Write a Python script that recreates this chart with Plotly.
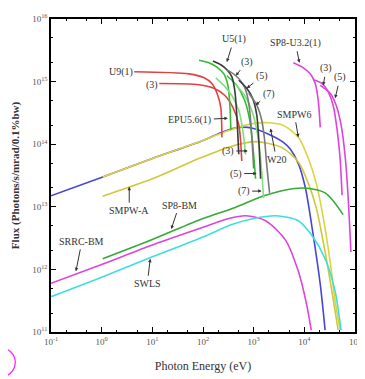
import math
import plotly.graph_objects as go

# ---------------- data (Photon energy in eV, flux in photons/s/mrad/0.1%bw) -------------
w20_e = [0.1, 1.05, 10, 100, 258, 508, 1000, 1970, 3870, 5310, 7620, 10500, 15000, 20600, 25700]
w20_f = [1.5e13, 3.0e13, 5.9e13, 1.15e14, 1.6e14, 1.86e14, 1.78e14, 1.44e14, 1.07e14, 8.3e13,
         4.9e13, 2.0e13, 3.5e12, 5.8e11, 1.07e11]

smpw6_e = [1.05, 10, 100, 324, 1000, 1970, 3870, 7620, 12000, 17200, 23600, 32300, 40500, 50800]
smpw6_f = [3.0e13, 5.9e13, 1.15e14, 1.66e14, 2.15e14, 2.2e14, 2.0e14, 1.29e14, 5.9e13, 2.37e13,
           6.7e12, 1.33e12, 3.16e11, 1.07e11]

smpwa_e = [1.05, 10, 83, 370, 1090, 3540, 7620, 12000, 17200, 24600, 33700, 46500]
smpwa_f = [1.48e13, 2.8e13, 5.9e13, 9.3e13, 1.1e14, 8.9e13, 5.2e13, 2.37e13, 9.6e12, 2.3e12,
           5.4e11, 1.07e11]

srrc_e = [0.1, 1, 10, 100, 324, 700, 1720, 4250, 7620, 11000, 13700]
srrc_f = [6.0e11, 1.2e12, 2.45e12, 4.7e12, 6.5e12, 7.2e12, 6.0e12, 2.94e12, 9.3e11, 2.84e11, 1.07e11]

swls_e = [0.1, 1, 10, 100, 370, 1000, 2700, 7620, 13700, 25700, 40500, 53000]
swls_f = [3.66e11, 7.5e11, 1.59e12, 3.3e12, 5.2e12, 6.5e12, 7.2e12, 6.0e12, 3.6e12, 1.48e12,
          4.5e11, 1.07e11]

sp8bm_e = [1.05, 10, 100, 406, 1720, 8720, 25700, 58200]
sp8bm_f = [1.48e12, 3.0e12, 6.5e12, 9.6e12, 1.53e13, 2.0e13, 1.67e13, 7.5e12]

u9_1_e = [4.4, 53, 105, 150, 196, 225, 236]
u9_1_f = [1.44e15, 1.33e15, 1.15e15, 9.3e14, 6.0e14, 3.8e14, 1.29e14]
u9_3_e = [13.7, 83, 164, 270, 387, 508, 582]
u9_3_f = [9.3e14, 8.9e14, 7.8e14, 6.0e14, 3.9e14, 2.05e14, 5.4e13]

u5_1_e = [157, 225, 296, 370, 424, 464, 508]
u5_1_f = [2.14e15, 1.86e15, 1.55e15, 1.2e15, 7.2e14, 2.94e14, 6.9e13]
u5_3_e = [296, 444, 608, 729, 833, 912, 1000]
u5_3_f = [1.55e15, 1.24e15, 9.3e14, 6.5e14, 3.5e14, 1.44e14, 4.1e13]
u5_5_e = [508, 729, 955, 1150, 1260, 1370]
u5_5_f = [1.05e15, 7.8e14, 5.4e14, 2.94e14, 1.2e14, 2.8e13]
u5_7_e = [800, 1150, 1435, 1640, 1800, 2060]
u5_7_f = [6.5e14, 4.2e14, 2.46e14, 1.2e14, 4.9e13, 1.67e13]

epu_1_e = [83.5, 131, 188, 258, 310, 339, 355]
epu_1_f = [2.2e15, 2.0e15, 1.7e15, 1.33e15, 8.7e14, 4.2e14, 1.7e14]
epu_3_e = [180, 258, 370, 508, 608, 697]
epu_3_f = [1.15e15, 8.7e14, 6.0e14, 3.5e14, 1.7e14, 6.9e13]
epu_5_e = [296, 464, 666, 833, 955, 1090]
epu_5_f = [1.24e15, 8.7e14, 5.0e14, 2.46e14, 1.0e14, 2.8e13]
epu_7_e = [424, 666, 912, 1150, 1370, 1570]
epu_7_f = [9.3e14, 6.0e14, 3.5e14, 1.7e14, 5.9e13, 1.38e13]

sp8u_1_e = [6080, 9550, 13100, 16400, 18800, 20600]
sp8u_1_f = [2.0e15, 1.66e15, 1.33e15, 9.3e14, 5.0e14, 1.86e14]
sp8u_3_e = [15000, 22500, 29500, 37000, 44400, 50800, 55600]
sp8u_3_f = [1.07e15, 9.3e14, 6.9e14, 4.2e14, 1.7e14, 5.9e13, 1.53e13]
sp8u_5_e = [20600, 32300, 42400, 53000, 63300, 72400, 83000]
sp8u_5_f = [8.7e14, 6.5e14, 4.2e14, 2.05e14, 6.9e13, 1.67e13, 1.9e12]

x_tickvals = [0.1, 1, 10, 100, 1000, 10000, 100000]
x_ticktext = ["10<sup>-1</sup>", "10<sup>0</sup>", "10<sup>1</sup>", "10<sup>2</sup>",
              "10<sup>3</sup>", "10<sup>4</sup>", "10<sup>5</sup>"]
y_tickvals = [1e11, 1e12, 1e13, 1e14, 1e15, 1e16]
y_ticktext = ["10<sup>11</sup>", "10<sup>12</sup>", "10<sup>13</sup>", "10<sup>14</sup>",
              "10<sup>15</sup>", "10<sup>16</sup>"]

# label text, arrow tip (E, F), text offset in px (None -> plain text at point)
labels = [
    ("U9(1)", 2.36, 1.44e15, None),
    ("(3)", 10, 8.7e14, None),
    ("U5(1)", 296, 2.05e15, (7, -23)),
    ("(3)", 444, 1.24e15, (11, -14)),
    ("(5)", 729, 7.8e14, (15, -12)),
    ("(7)", 1090, 4.2e14, (13, -11)),
    ("SP8-U3.2(1)", 8000, 2.0e15, (-4, -20)),
    ("(3)", 23600, 8.7e14, (3, -17)),
    ("(5)", 40500, 5.4e14, (5, -21)),
    ("SMPW6", 7620, 1.29e14, (-4, -23)),
    ("EPU5.6(1)", 310, 2.6e14, (-38, 2)),
    ("W20", 2150, 1.78e14, (6, 31)),
    ("(3)", 765, 7.8e13, (-20, 0)),
    ("(5)", 1150, 3.4e13, (-21, 0)),
    ("(7)", 1435, 1.78e13, (-18, 0)),
    ("SMPW-A", 3.5, 2.1e13, (0, 24)),
    ("SP8-BM", 23.6, 4.4e12, (8, -24)),
    ("SRRC-BM", 0.31, 9.3e11, (6, -30)),
    ("SWLS", 9.1, 1.48e12, (-3, 25)),
]

# ---------------------------------------------------------------------------------------
RED = "#e2413f"
BLACK = "#3a3a3a"
GRAY = "#7a7a7a"
GREEN = "#2fbf2f"
LGREEN = "#7fe07f"
MAG = "#dd44dd"
BLUE = "#4646d8"
YEL = "#dcd43e"
YEL2 = "#cfc83a"
CYAN = "#3fdede"
GBM = "#35aa35"

series = [
    (w20_e, w20_f, BLUE, "W20"),
    (smpw6_e, smpw6_f, YEL, "SMPW6"),
    (smpwa_e, smpwa_f, YEL2, "SMPW-A"),
    (srrc_e, srrc_f, MAG, "SRRC-BM"),
    (swls_e, swls_f, CYAN, "SWLS"),
    (sp8bm_e, sp8bm_f, GBM, "SP8-BM"),
    (u9_1_e, u9_1_f, RED, "U9(1)"),
    (u9_3_e, u9_3_f, RED, "U9(3)"),
    (epu_1_e, epu_1_f, GREEN, "EPU5.6(1)"),
    (epu_3_e, epu_3_f, LGREEN, "EPU5.6(3)"),
    (epu_5_e, epu_5_f, GREEN, "EPU5.6(5)"),
    (epu_7_e, epu_7_f, LGREEN, "EPU5.6(7)"),
    (u5_1_e, u5_1_f, BLACK, "U5(1)"),
    (u5_3_e, u5_3_f, GRAY, "U5(3)"),
    (u5_5_e, u5_5_f, BLACK, "U5(5)"),
    (u5_7_e, u5_7_f, GRAY, "U5(7)"),
    (sp8u_1_e, sp8u_1_f, MAG, "SP8-U3.2(1)"),
    (sp8u_3_e, sp8u_3_f, MAG, "SP8-U3.2(3)"),
    (sp8u_5_e, sp8u_5_f, MAG, "SP8-U3.2(5)"),
]

fig = go.Figure()
for xs, ys, col, name in series:
    fig.add_trace(go.Scatter(x=xs, y=ys, mode="lines", name=name,
                             line=dict(color=col, width=1.6, shape="spline", smoothing=0.8),
                             hoverinfo="name"))

SERIF = "Liberation Serif, Times New Roman, serif"
annots = []
for text, e, f, off in labels:
    a = dict(x=math.log10(e), y=math.log10(f), xref="x", yref="y", text=text,
             font=dict(family=SERIF, size=10, color="#333333"))
    if off is None:
        a.update(showarrow=False)
    else:
        a.update(showarrow=True, ax=off[0], ay=off[1], arrowhead=2, arrowsize=0.7,
                 arrowwidth=1, arrowcolor="#333333", standoff=0, startstandoff=1)
    annots.append(a)

axis_common = dict(type="log", showline=True, linecolor="black", linewidth=1.5,
                   mirror="allticks", ticks="inside", ticklen=5, tickcolor="black",
                   showgrid=False, zeroline=False, ticklabeloverflow="allow",
                   tickfont=dict(family=SERIF, size=9, color="#555555"),
                   minor=dict(ticks="inside", ticklen=2.5, tickcolor="black", showgrid=False))

# the page body adds an 8 px offset, so the figure is sized to the remaining window
fig.update_layout(
    width=357, height=371,
    margin=dict(l=43, r=8, t=4, b=47),
    paper_bgcolor="white", plot_bgcolor="white",
    showlegend=False,
    annotations=annots,
    xaxis=dict(axis_common, range=[-1, 5], tickvals=x_tickvals, ticktext=x_ticktext,
               title=dict(text="Photon Energy (eV)", standoff=16,
                          font=dict(family=SERIF, size=12, color="#333333"))),
    yaxis=dict(axis_common, range=[11, 16], tickvals=y_tickvals, ticktext=y_ticktext,
               title=dict(text="<b>Flux (Photons/s/mrad/0.1%bw)</b>", standoff=10,
                          font=dict(family=SERIF, size=11, color="#333333"))),
    shapes=[dict(type="circle", xref="paper", yref="paper",
                 x0=-0.2157, x1=-0.1176, y0=-0.05, y1=-0.14375,
                 line=dict(color="#ff22ff", width=1.3))],
)

fig.write_html("out.html")
